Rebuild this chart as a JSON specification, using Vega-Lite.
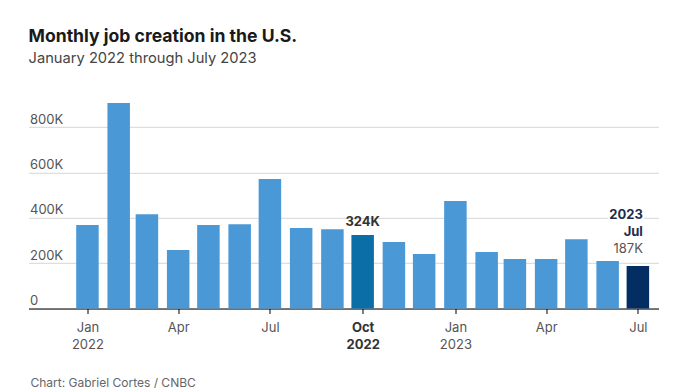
{
  "$schema": "https://vega.github.io/schema/vega-lite/v6.json",
  "width": 630,
  "height": 226.7,
  "autosize": {"type": "none"},
  "padding": {"left": 28.5, "top": 81.8, "right": 19.5, "bottom": 79.5},
  "background": "white",
  "config": {"font": "Inter", "view": {"stroke": null}},
  "title": {
    "text": "Monthly job creation in the U.S.",
    "subtitle": "January 2022 through July 2023",
    "anchor": "start",
    "frame": "group",
    "fontSize": 17.6,
    "fontWeight": "bold",
    "color": "#1a1a1a",
    "subtitleFontSize": 14.7,
    "subtitleColor": "#444444",
    "subtitleFontWeight": "normal",
    "subtitlePadding": 6,
    "offset": 16
  },
  "data": {
    "values": [
      {"date": "2022-01-01T00:00:00", "value": 368},
      {"date": "2022-02-01T00:00:00", "value": 906},
      {"date": "2022-03-01T00:00:00", "value": 416},
      {"date": "2022-04-01T00:00:00", "value": 258},
      {"date": "2022-05-01T00:00:00", "value": 368},
      {"date": "2022-06-01T00:00:00", "value": 372},
      {"date": "2022-07-01T00:00:00", "value": 571},
      {"date": "2022-08-01T00:00:00", "value": 355},
      {"date": "2022-09-01T00:00:00", "value": 350},
      {"date": "2022-10-01T00:00:00", "value": 324},
      {"date": "2022-11-01T00:00:00", "value": 293},
      {"date": "2022-12-01T00:00:00", "value": 240},
      {"date": "2023-01-01T00:00:00", "value": 474},
      {"date": "2023-02-01T00:00:00", "value": 249},
      {"date": "2023-03-01T00:00:00", "value": 218},
      {"date": "2023-04-01T00:00:00", "value": 218},
      {"date": "2023-05-01T00:00:00", "value": 306},
      {"date": "2023-06-01T00:00:00", "value": 209},
      {"date": "2023-07-01T00:00:00", "value": 187}
    ]
  },
  "encoding": {
    "x": {
      "field": "date",
      "type": "temporal",
      "scale": {
        "domain": [
          {"year": 2021, "month": 11, "date": 8, "hours": 12},
          {"year": 2023, "month": 7, "date": 16, "hours": 12}
        ],
        "nice": false
      },
      "axis": {
        "values": [
          {"year": 2022, "month": 1, "date": 1},
          {"year": 2022, "month": 4, "date": 1},
          {"year": 2022, "month": 7, "date": 1},
          {"year": 2022, "month": 10, "date": 1},
          {"year": 2023, "month": 1, "date": 1},
          {"year": 2023, "month": 4, "date": 1},
          {"year": 2023, "month": 7, "date": 1}
        ],
        "labelExpr": "month(datum.value) == 0 || month(datum.value) == 9 ? [timeFormat(datum.value, '%b'), timeFormat(datum.value, '%Y')] : timeFormat(datum.value, '%b')",
        "grid": false,
        "tickSize": 5,
        "tickColor": "#000000",
        "domainColor": "#000000",
        "domainWidth": 1,
        "labelFontSize": 13,
        "labelLineHeight": 17,
        "labelBaseline": "top",
        "labelPadding": 8,
        "labelFlush": false,
        "labelOverlap": false,
        "labelBound": false,
        "labelColor": {"condition": {"test": "month(datum.value) == 9", "value": "#333333"}, "value": "#555555"},
        "labelFontWeight": {"condition": {"test": "month(datum.value) == 9", "value": "bold"}, "value": "normal"},
        "title": "Chart: Gabriel Cortes / CNBC",
        "titleAnchor": "start",
        "titleAlign": "left",
        "titleBaseline": "alphabetic",
        "titleX": 1.5,
        "titleY": 77.5,
        "titleFontSize": 12,
        "titleFontWeight": "normal",
        "titleColor": "#666666"
      }
    },
    "y": {
      "field": "value",
      "type": "quantitative",
      "scale": {"domain": [0, 1000], "nice": false},
      "axis": {
        "values": [0, 200, 400, 600, 800],
        "labelExpr": "datum.value == 0 ? '0' : datum.value + 'K'",
        "domain": false,
        "ticks": false,
        "tickSize": 0,
        "labelAlign": "left",
        "labelPadding": -1,
        "labelBaseline": "alphabetic",
        "labelOffset": -4,
        "labelFontSize": 13,
        "labelColor": "#555555",
        "gridColor": "#d6d6d6",
        "gridWidth": 1,
        "title": null
      }
    }
  },
  "layer": [
    {
      "mark": {"type": "bar", "size": 22.5},
      "encoding": {
        "color": {
          "condition": [
            {"test": "month(datum.date) == 9 && year(datum.date) == 2022", "value": "#0b6ea7"},
            {"test": "month(datum.date) == 6 && year(datum.date) == 2023", "value": "#032d63"}
          ],
          "value": "#4a98d6"
        }
      }
    },
    {
      "transform": [{"filter": "month(datum.date) == 9 && year(datum.date) == 2022"}],
      "mark": {"type": "text", "text": "324K", "dy": -9, "baseline": "alphabetic", "align": "center", "fontSize": 13, "fontWeight": "bold", "color": "#333333"}
    },
    {
      "transform": [{"filter": "month(datum.date) == 6 && year(datum.date) == 2023"}],
      "mark": {"type": "text", "text": "187K", "dy": -13, "dx": 5, "baseline": "alphabetic", "align": "right", "fontSize": 13, "fontWeight": "normal", "color": "#555555"}
    },
    {
      "transform": [{"filter": "month(datum.date) == 6 && year(datum.date) == 2023"}],
      "mark": {"type": "text", "text": "Jul", "dy": -30, "dx": 5, "baseline": "alphabetic", "align": "right", "fontSize": 13, "fontWeight": "bold", "color": "#1d2c4c"}
    },
    {
      "transform": [{"filter": "month(datum.date) == 6 && year(datum.date) == 2023"}],
      "mark": {"type": "text", "text": "2023", "dy": -47, "dx": 5, "baseline": "alphabetic", "align": "right", "fontSize": 13, "fontWeight": "bold", "color": "white", "stroke": "white", "strokeWidth": 4}
    },
    {
      "transform": [{"filter": "month(datum.date) == 6 && year(datum.date) == 2023"}],
      "mark": {"type": "text", "text": "2023", "dy": -47, "dx": 5, "baseline": "alphabetic", "align": "right", "fontSize": 13, "fontWeight": "bold", "color": "#1d2c4c"}
    }
  ]
}
